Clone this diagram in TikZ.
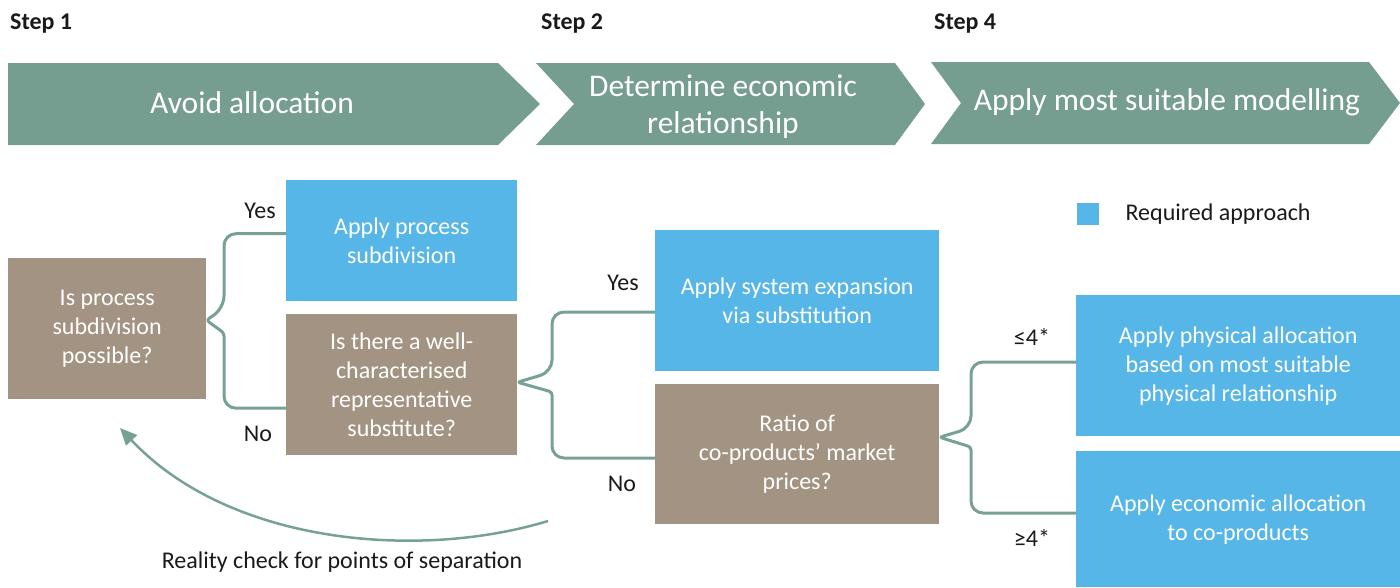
\documentclass[tikz,border=0pt]{standalone}
\usepackage{fontspec}
\setmainfont{Carlito}
\usetikzlibrary{arrows.meta}

\definecolor{chevgreen}{HTML}{759D90}
\definecolor{linkgreen}{HTML}{78A195}
\definecolor{qbrown}{HTML}{A39382}
\definecolor{reqblue}{HTML}{56B6E7}
\definecolor{inktext}{HTML}{1A1A1A}

\begin{document}
\begin{tikzpicture}[x=1pt,y=-1pt,
  every node/.style={font=\fontsize{24}{29}\selectfont, text=inktext, inner sep=0pt},
  box/.style={anchor=north west, align=center, text=white},
  bluebox/.style={box, fill=reqblue},
  brownbox/.style={box, fill=qbrown},
  chevron/.style={fill=chevgreen},
  chevtext/.style={text=white, align=center, font=\fontsize{31.5}{37}\selectfont},
  steplabel/.style={anchor=west, font=\fontsize{24}{29}\selectfont\bfseries},
  brace/.style={draw=linkgreen, line width=3pt, line join=round},
  looparrow/.style={draw=linkgreen, line width=2.5pt, -{Triangle[length=17pt,width=15pt]}},
]
\useasboundingbox (0,0) rectangle (1400,587);

% step headings
\node[steplabel] (s1) at (10,24) {Step 1};
\node[steplabel] (s2) at (541,24) {Step 2};
\node[steplabel] (s4) at (934,24) {Step 4};

% chevron banners
\fill[chevron] (8,63) -- (498,63) -- (540,104) -- (498,145) -- (8,145) -- cycle;
\fill[chevron] (536,63) -- (895,63) -- (925,104) -- (895,145) -- (536,145) -- (574,104) -- cycle;
\fill[chevron] (931,62) -- (1369,62) -- (1400,103) -- (1369,144) -- (931,144) -- (961,103) -- cycle;
\node[chevtext] (c1) at (252,103) {Avoid allocation};
\node[chevtext] (c2) at (723,107) {Determine economic\\relationship};
\node[chevtext] (c3) at (1167,102) {Apply most suitable modelling};

% decision and approach boxes
\node[brownbox, minimum width=198, minimum height=141] (q1) at (8,258)
  {Is process\\subdivision\\possible?};
\node[bluebox, minimum width=231, minimum height=121] (psub) at (286,180)
  {Apply process\\subdivision};
\node[brownbox, minimum width=231, minimum height=141] (q2) at (286,314)
  {Is there a well-\\characterised\\representative\\substitute?};
\node[bluebox, minimum width=284, minimum height=141] (sysexp) at (655,230)
  {Apply system expansion\\via substitution};
\node[brownbox, minimum width=284, minimum height=140] (q3) at (655,384)
  {Ratio of\\co-products’ market\\prices?};
\node[bluebox, minimum width=324, minimum height=141] (phys) at (1076,295)
  {Apply physical allocation\\based on most suitable\\physical relationship};
\node[bluebox, minimum width=324, minimum height=136] (econ) at (1076,451)
  {Apply economic allocation\\to co-products};

% legend
\node[fill=reqblue, minimum size=22, anchor=north west] (key) at (1077,203) {};
\node[anchor=west] (keytext) at ([xshift=26pt]key.east) {Required approach};

% branch braces
\draw[brace] ([yshift=7pt]psub.west) [rounded corners=12pt] -| (224,308)
  [rounded corners=3pt] -- ([yshift=8.5pt]q1.east) -- (224,333)
  [rounded corners=12pt] |- ([yshift=-23.5pt]q2.west);
\draw[brace] ([yshift=-6pt]sysexp.north west |- 0,306) [rounded corners=12pt] -| (552,372)
  [rounded corners=3pt] -- ([yshift=2.5pt]q2.east) -- (552,392)
  [rounded corners=12pt] |- (q3.west |- 0,458);
\draw[brace] (phys.west |- 0,362) [rounded corners=12pt] -| (971,428)
  [rounded corners=3pt] -- ([yshift=17pt]q3.east) -- (971,447)
  [rounded corners=12pt] |- (econ.west |- 0,513);

% branch labels
\node (yes1) at (260,211) {Yes};
\node (no1) at (258,434) {No};
\node (yes2) at (623,283) {Yes};
\node (no2) at (622,484) {No};
\node (le4) at (1032,337) {≤4*};
\node (ge4) at (1032,538) {≥4*};

% reality check loop
\coordinate (loopstart) at (548,521);
\coordinate (loopend) at (120,428);
\draw[looparrow] (loopstart) .. controls (420,560) and (230,545) .. (loopend);
\node (reality) at (342,562) {Reality check for points of separation};

\end{tikzpicture}
\end{document}
